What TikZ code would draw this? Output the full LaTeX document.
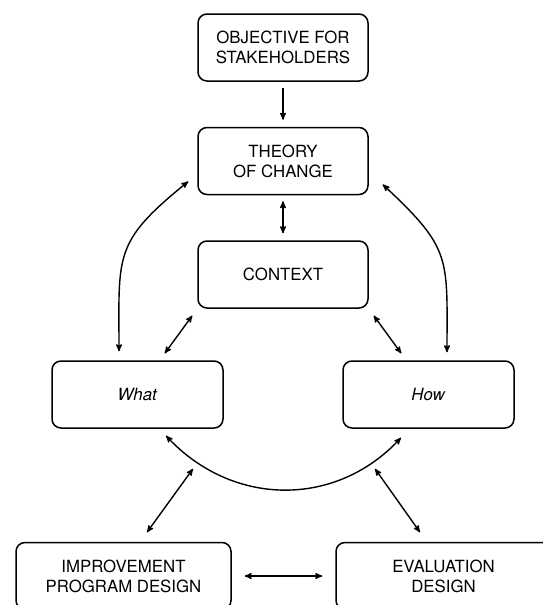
\documentclass[tikz,border=0pt]{standalone}
\usepackage{fontspec}
\setmainfont{TeX Gyre Heros}
\usetikzlibrary{arrows,positioning}

\begin{document}
\begin{tikzpicture}[x=1pt,y=-1pt,>=stealth',line width=1.4pt,
                    stage/.style={draw,rounded corners=9pt,inner sep=0pt,
                      minimum width=170pt,minimum height=67pt,align=center,
                      line width=1.5pt,font=\fontsize{16.8}{20}\selectfont},
                    wide stage/.style={stage,minimum width=215pt}]
  \path[use as bounding box,clip] (0,0) rectangle (543,605);

  \node[stage]                (obj) at (283,47.5)       {OBJECTIVE FOR\\STAKEHOLDERS};
  \node[stage]                (toc) [below=45pt of obj] {THEORY\\OF CHANGE};
  \node[stage]                (ctx) [below=45pt of toc] {CONTEXT};
  \node[stage,minimum width=171pt] (what) at (137.5,394.5) {\textit{What}};
  \node[stage,minimum width=171pt] (how)  at (428.5,394.5) {\textit{How}};
  \node[wide stage]           (imp)  at (123.5,576)     {IMPROVEMENT\\PROGRAM DESIGN};
  \node[wide stage]           (eval) at (443.5,576)     {EVALUATION\\DESIGN};

  \draw[->,shorten <=6pt,shorten >=7pt]  (obj) -- (toc);
  \draw[<->,shorten <=6pt,shorten >=7pt] (toc) -- (ctx);
  \draw[<->,shorten <=8.5pt,shorten >=8.5pt] (ctx.south west) -- (what.57);
  \draw[<->,shorten <=8.5pt,shorten >=8.5pt] (ctx.south east) -- (how.123);
  \draw[<->] ([xshift=-9pt,yshift=-20.5pt]toc.west)
             to[out=219,in=90,looseness=1.35] ([xshift=-18.5pt,yshift=9pt]what.north);
  \draw[<->] ([xshift=14pt,yshift=-23.5pt]toc.east)
             to[out=317,in=90,looseness=1.35] ([xshift=18.5pt,yshift=8pt]how.north);
  \draw[<->] ([xshift=28.5pt,yshift=-7pt]what.south)
             to[out=-47,in=227,looseness=1.05] ([xshift=-27.5pt,yshift=-9pt]how.south);
  \draw[<->] ([xshift=55.5pt,yshift=-40pt]what.south) -- ([xshift=23.5pt,yshift=9.5pt]imp.north);
  \draw[<->] ([xshift=-53.5pt,yshift=-40pt]how.south) -- ([xshift=-23.5pt,yshift=9.5pt]eval.north);
  \draw[<->,shorten <=13pt,shorten >=13pt] (imp) -- (eval);
\end{tikzpicture}
\end{document}
